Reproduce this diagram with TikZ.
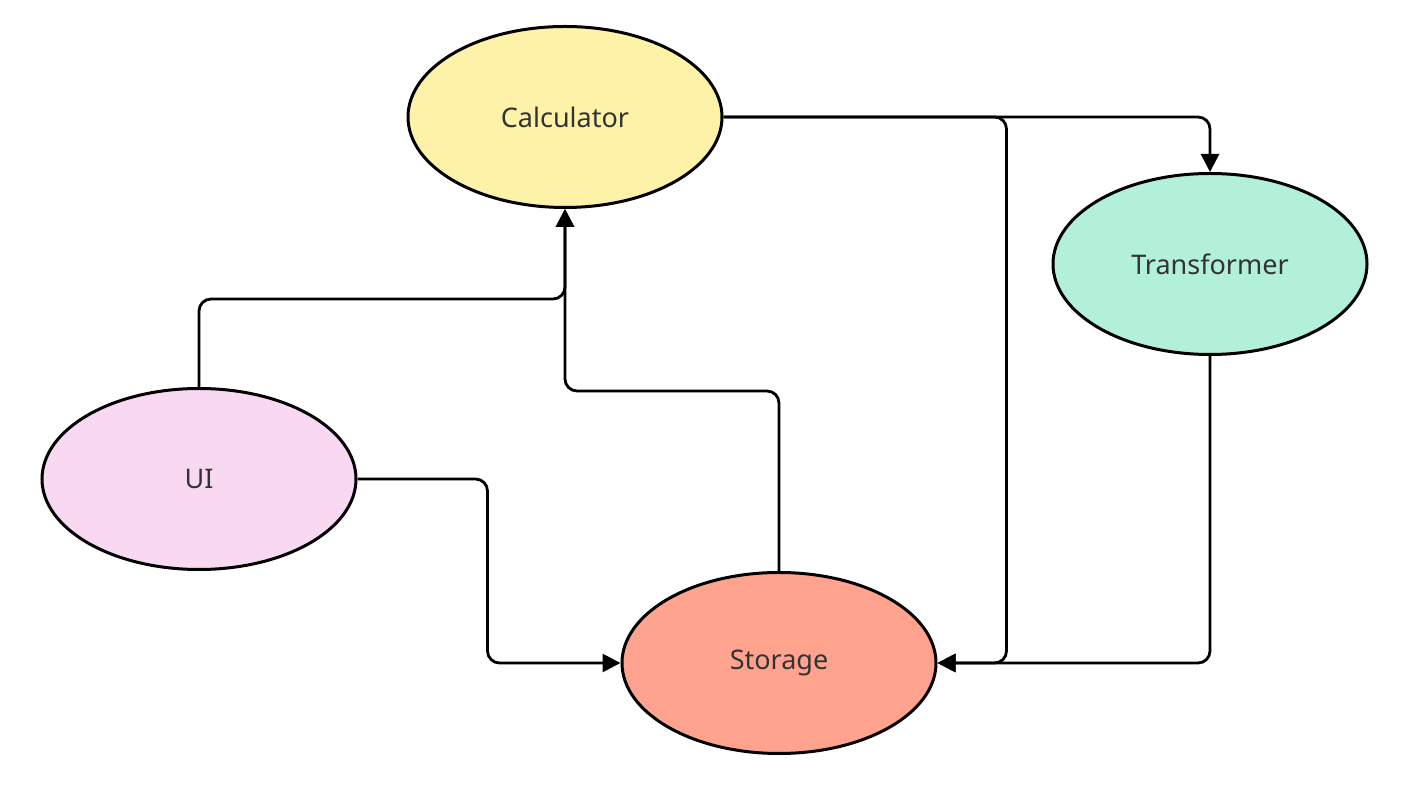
\documentclass[tikz,border=0pt]{standalone}
\usepackage{fontspec}
\setmainfont{Noto Sans}
\usepackage{tikz}
\usetikzlibrary{calc, positioning, shapes.geometric, arrows.meta}

\definecolor{calcfill}{HTML}{FEF2A8}
\definecolor{transfill}{HTML}{B2F0DA}
\definecolor{uifill}{HTML}{F9D9F2}
\definecolor{storfill}{HTML}{FFA38F}
\definecolor{labeltext}{HTML}{333333}

\begin{document}
\begin{tikzpicture}[x=1pt, y=1pt,
		blob/.style={ellipse, draw=black, line width=3pt, minimum width=314pt, minimum height=181pt, inner sep=0pt, text=labeltext, font=\fontsize{27}{32}\selectfont},
		link/.style={line width=2.8pt, rounded corners=12pt, -{Triangle[width=18pt, length=18pt]}}]
	\useasboundingbox (0,0) rectangle (1418,792);

	\node[blob, fill=calcfill] (calc) at (565,675) {Calculator};
	\node[blob, fill=transfill] (trans) at (1210,528) {Transformer};
	\node[blob, fill=uifill] (ui) at (199,313) {UI};
	\node[blob, fill=storfill] (stor) at (779,129) {Storage};

	% calculator outputs
	\draw[link] (calc.east) -| (trans.north);
	\draw[link] (calc.east) -| ($(stor.east)+(69,0)$) -- (stor.east);
	\draw[link] (trans.south) |- (stor.east);

	% into calculator
	\draw[link] (ui.north) |- ($(calc.south)+(0,-90)$) -- (calc.south);
	\draw[link] (stor.north) |- ($(calc.south)+(0,-182)$) -- (calc.south);

	% ui to storage
	\draw[link] (ui.east) -| ($(stor.west)+(-133,0)$) -- (stor.west);
\end{tikzpicture}
\end{document}
